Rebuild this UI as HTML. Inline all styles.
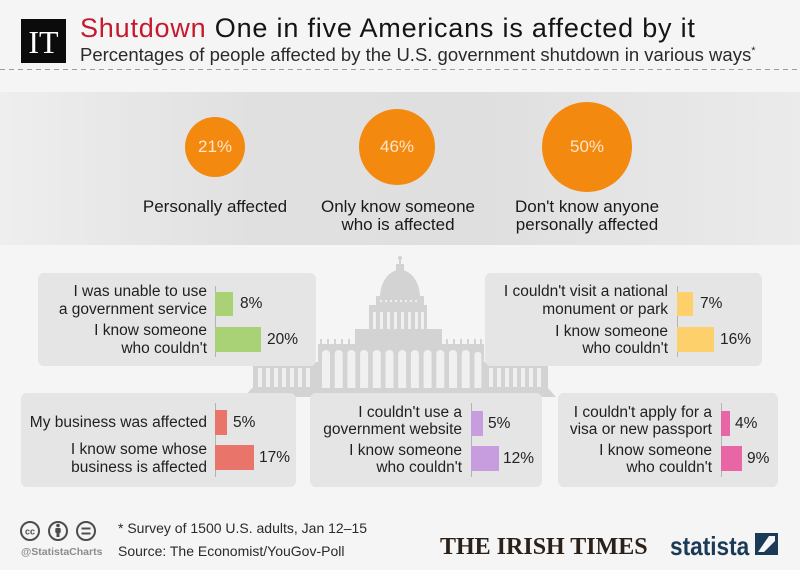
<!DOCTYPE html>
<html><head><meta charset="utf-8">
<style>
*{margin:0;padding:0;box-sizing:border-box}
body{width:800px;height:570px;background:#f5f5f5;position:relative;overflow:hidden;font-family:"Liberation Sans",sans-serif;color:#1f1f1f}
.a{position:absolute;white-space:nowrap}
.band{position:absolute;left:0;top:92px;width:800px;height:153px;background:linear-gradient(90deg,#eeeeee 0%,#e0e0e0 32%,#dfdfdf 60%,#ebebeb 100%)}
.circ{position:absolute;border-radius:50%;background:#f4890f;color:#fde6cc;font-size:17px;display:flex;align-items:center;justify-content:center}
.cl{position:absolute;width:220px;text-align:center;font-size:17px;line-height:18px;color:#1a1a1a}
.panel{position:absolute;background:#e5e5e5;border-radius:6px}
.t{position:absolute;white-space:nowrap;font-size:15.5px;line-height:18px;color:#1f1f1f;text-align:right}
.v{position:absolute;white-space:nowrap;font-size:15.5px;line-height:18px;color:#222}
.ax{position:absolute;width:1px;background:#b3b3b3}
.bar{position:absolute}
</style></head><body>

<!-- header -->
<div class="a" style="left:21px;top:19px;width:45px;height:44px;background:#0b0b0b;color:#fff;font-family:'Liberation Serif',serif;font-size:32px;line-height:44px;text-align:center;padding-top:1px">IT</div>
<div class="a" style="left:80px;top:15px;font-size:27px;line-height:27px;letter-spacing:0.8px;color:#141414"><span style="color:#c5192d">Shutdown</span> One in five Americans is affected by it</div>
<div class="a" style="left:80px;top:46px;font-size:18.5px;line-height:18.5px;color:#2a2a2a">Percentages of people affected by the U.S. government shutdown in various ways<span style="font-size:11px;position:relative;top:-7px">*</span></div>
<svg class="a" style="left:0;top:68px" width="800" height="3"><line x1="0" y1="1.5" x2="800" y2="1.5" stroke="#9c9c9c" stroke-width="1" stroke-dasharray="5,4"/></svg>

<!-- band -->
<div class="band"></div>
<div class="circ" style="left:185px;top:117px;width:60px;height:60px">21%</div>
<div class="circ" style="left:359px;top:109px;width:76px;height:76px">46%</div>
<div class="circ" style="left:542px;top:102px;width:90px;height:90px">50%</div>
<div class="cl" style="left:105px;top:198px">Personally affected</div>
<div class="cl" style="left:288px;top:198px">Only know someone<br>who is affected</div>
<div class="cl" style="left:477px;top:198px">Don't know anyone<br>personally affected</div>

<!-- capitol -->
<svg class="a" style="left:0;top:0" width="800" height="570">
<g fill="#d3d3d3">
<polygon points="244,397 556,397 548,388 252,388"/>
<rect x="253" y="362" width="66" height="26"/>
<rect x="482" y="362" width="66" height="26"/>
<rect x="318" y="344" width="166" height="44"/>
<rect x="355" y="329" width="87" height="16"/>
<rect x="369" y="305" width="58" height="25"/>
<rect x="376" y="296" width="48" height="10"/>
<path d="M380 297 A20 27 0 0 1 420 297 Z"/>
<rect x="396" y="264" width="8" height="8"/>
<rect x="399" y="257" width="2" height="8"/>
<circle cx="400" cy="258" r="2"/>
<rect x="320" y="339" width="2" height="5"/><rect x="327" y="339" width="2" height="5"/><rect x="334" y="339" width="2" height="5"/><rect x="341" y="339" width="2" height="5"/><rect x="348" y="339" width="2" height="5"/>
<rect x="446" y="339" width="2" height="5"/><rect x="453" y="339" width="2" height="5"/><rect x="460" y="339" width="2" height="5"/><rect x="467" y="339" width="2" height="5"/><rect x="474" y="339" width="2" height="5"/><rect x="480" y="339" width="2" height="5"/>
</g>
<g fill="#f0f0f0">
<path d="M322 388 V354 a4 4 0 0 1 8 0 V388Z"/><path d="M334.7 388 V354 a4 4 0 0 1 8 0 V388Z"/><path d="M347.4 388 V354 a4 4 0 0 1 8 0 V388Z"/><path d="M360.1 388 V354 a4 4 0 0 1 8 0 V388Z"/><path d="M372.8 388 V354 a4 4 0 0 1 8 0 V388Z"/><path d="M385.5 388 V354 a4 4 0 0 1 8 0 V388Z"/><path d="M398.2 388 V354 a4 4 0 0 1 8 0 V388Z"/><path d="M410.9 388 V354 a4 4 0 0 1 8 0 V388Z"/><path d="M423.6 388 V354 a4 4 0 0 1 8 0 V388Z"/><path d="M436.3 388 V354 a4 4 0 0 1 8 0 V388Z"/><path d="M449 388 V354 a4 4 0 0 1 8 0 V388Z"/><path d="M461.7 388 V354 a4 4 0 0 1 8 0 V388Z"/><path d="M474.4 388 V354 a4 4 0 0 1 7 0 V388Z"/>
<rect x="258" y="368" width="4" height="19"/><rect x="266" y="368" width="4" height="19"/><rect x="274" y="368" width="4" height="19"/><rect x="282" y="368" width="4" height="19"/><rect x="290" y="368" width="4" height="19"/><rect x="298" y="368" width="4" height="19"/><rect x="306" y="368" width="4" height="19"/>
<rect x="489" y="368" width="4" height="19"/><rect x="497" y="368" width="4" height="19"/><rect x="505" y="368" width="4" height="19"/><rect x="513" y="368" width="4" height="19"/><rect x="521" y="368" width="4" height="19"/><rect x="529" y="368" width="4" height="19"/><rect x="537" y="368" width="4" height="19"/>
<rect x="373" y="312" width="3" height="17"/><rect x="380" y="312" width="3" height="17"/><rect x="387" y="312" width="3" height="17"/><rect x="394" y="312" width="3" height="17"/><rect x="401" y="312" width="3" height="17"/><rect x="408" y="312" width="3" height="17"/><rect x="415" y="312" width="3" height="17"/><rect x="421" y="312" width="3" height="17"/>
<rect x="380" y="300" width="2" height="2"/><rect x="385" y="300" width="2" height="2"/><rect x="390" y="300" width="2" height="2"/><rect x="395" y="300" width="2" height="2"/><rect x="400" y="300" width="2" height="2"/><rect x="405" y="300" width="2" height="2"/><rect x="410" y="300" width="2" height="2"/><rect x="415" y="300" width="2" height="2"/>
</g>
</svg>

<!-- green panel -->
<div class="panel" style="left:38px;top:273px;width:278px;height:93px"></div>
<div class="ax" style="left:215px;top:286px;height:71px"></div>
<div class="bar" style="left:215px;top:292px;width:18.4px;height:24px;background:#a9d175"></div>
<div class="bar" style="left:215px;top:327px;width:46px;height:25px;background:#a9d175"></div>
<div class="t" style="left:0;width:207px;top:283px">I was unable to use</div>
<div class="t" style="left:0;width:207px;top:301px">a government service</div>
<div class="t" style="left:0;width:207px;top:322px">I know someone</div>
<div class="t" style="left:0;width:207px;top:340px">who couldn't</div>
<div class="v" style="left:240px;top:295px">8%</div>
<div class="v" style="left:267px;top:330.5px">20%</div>

<!-- yellow panel -->
<div class="panel" style="left:485px;top:273px;width:277px;height:93px"></div>
<div class="ax" style="left:677px;top:286px;height:71px"></div>
<div class="bar" style="left:677px;top:292px;width:16.1px;height:24px;background:#fdd06c"></div>
<div class="bar" style="left:677px;top:327px;width:36.8px;height:25px;background:#fdd06c"></div>
<div class="t" style="left:0;width:668px;top:283px">I couldn't visit a national</div>
<div class="t" style="left:0;width:668px;top:301px">monument or park</div>
<div class="t" style="left:0;width:668px;top:323px">I know someone</div>
<div class="t" style="left:0;width:668px;top:340px">who couldn't</div>
<div class="v" style="left:700px;top:295px">7%</div>
<div class="v" style="left:720px;top:330.5px">16%</div>

<!-- red panel -->
<div class="panel" style="left:21px;top:393px;width:275px;height:94px"></div>
<div class="ax" style="left:215px;top:403px;height:74px"></div>
<div class="bar" style="left:215px;top:410px;width:11.5px;height:25px;background:#e9756a"></div>
<div class="bar" style="left:215px;top:445px;width:39.1px;height:25px;background:#e9756a"></div>
<div class="t" style="left:0;width:207px;top:414px">My business was affected</div>
<div class="t" style="left:0;width:207px;top:441px">I know some whose</div>
<div class="t" style="left:0;width:207px;top:459px">business is affected</div>
<div class="v" style="left:233px;top:413.5px">5%</div>
<div class="v" style="left:259px;top:448.5px">17%</div>

<!-- purple panel -->
<div class="panel" style="left:310px;top:393px;width:232px;height:94px"></div>
<div class="ax" style="left:471px;top:403px;height:74px"></div>
<div class="bar" style="left:471px;top:411px;width:11.5px;height:25px;background:#c79ddf"></div>
<div class="bar" style="left:471px;top:446px;width:27.6px;height:25px;background:#c79ddf"></div>
<div class="t" style="left:0;width:462px;top:404px">I couldn't use a</div>
<div class="t" style="left:0;width:462px;top:421px">government website</div>
<div class="t" style="left:0;width:462px;top:442px">I know someone</div>
<div class="t" style="left:0;width:462px;top:459px">who couldn't</div>
<div class="v" style="left:488px;top:414.5px">5%</div>
<div class="v" style="left:503px;top:449.5px">12%</div>

<!-- pink panel -->
<div class="panel" style="left:558px;top:393px;width:220px;height:94px"></div>
<div class="ax" style="left:721px;top:403px;height:74px"></div>
<div class="bar" style="left:721px;top:411px;width:9.2px;height:25px;background:#e866a5"></div>
<div class="bar" style="left:721px;top:446px;width:20.7px;height:25px;background:#e866a5"></div>
<div class="t" style="left:0;width:712px;top:404px">I couldn't apply for a</div>
<div class="t" style="left:0;width:712px;top:421px">visa or new passport</div>
<div class="t" style="left:0;width:712px;top:442px">I know someone</div>
<div class="t" style="left:0;width:712px;top:459px">who couldn't</div>
<div class="v" style="left:735px;top:414.5px">4%</div>
<div class="v" style="left:747px;top:449.5px">9%</div>

<!-- footer -->
<svg class="a" style="left:0;top:515px" width="110" height="32">
<g fill="none" stroke="#4d4d4d" stroke-width="2">
<circle cx="30" cy="16" r="9"/><circle cx="58" cy="16" r="9"/><circle cx="86" cy="16" r="9"/>
</g>
<text x="30" y="19.5" font-family="Liberation Sans" font-weight="bold" font-size="9" text-anchor="middle" fill="#4d4d4d">cc</text>
<g fill="#4d4d4d">
<circle cx="58" cy="10.5" r="1.8"/><rect x="55.3" y="13" width="5.4" height="5" rx="1"/><rect x="56.5" y="17" width="3" height="5"/>
<rect x="81.5" y="12.5" width="9" height="2"/><rect x="81.5" y="17.5" width="9" height="2"/>
</g>
</svg>
<div class="a" style="left:21px;top:545px;font-size:10.5px;line-height:14px;font-weight:bold;color:#8c8c8c">@StatistaCharts</div>
<div class="a" style="left:118px;top:519px;font-size:14px;line-height:18px;color:#2a2a2a">* Survey of 1500 U.S. adults, Jan 12–15</div>
<div class="a" style="left:118px;top:542px;font-size:14px;line-height:18px;color:#2a2a2a">Source: The Economist/YouGov-Poll</div>
<div class="a" style="left:440px;top:534px;font-family:'Liberation Serif',serif;font-weight:bold;font-size:24px;line-height:26px;color:#2b2119">THE IRISH TIMES</div>
<div class="a" style="left:670px;top:532px;font-weight:bold;font-size:26px;line-height:28px;color:#1b3a57;transform:scaleX(0.87);transform-origin:left center">statista</div>
<svg class="a" style="left:755px;top:533px" width="23" height="22">
<rect width="23" height="22" fill="#1b3a57"/>
<path d="M3 19 L9 19 L20 8 L20 3 L14 3 Z" fill="#f5f5f5"/>
</svg>
</body></html>
